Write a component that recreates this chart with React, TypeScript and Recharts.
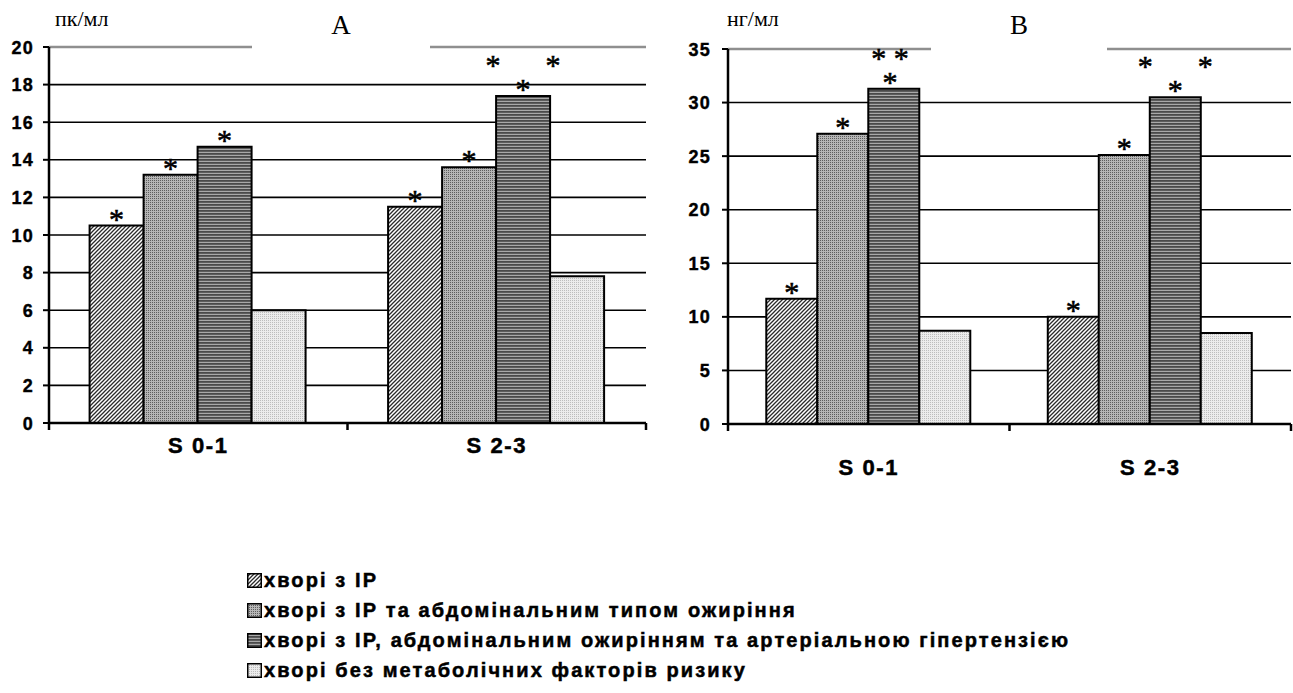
import React from 'react'
import { BarChart, Bar, XAxis, YAxis, CartesianGrid, ReferenceLine, LabelList } from 'recharts'

const categories = ['S 0-1', 'S 2-3']
const seriesNames = [
  'хворі з ІР',
  'хворі з ІР та абдомінальним типом ожиріння',
  'хворі з ІР, абдомінальним ожирінням та артеріальною гіпертензією',
  'хворі без метаболічних факторів ризику',
]

// chart A, пк/мл
const aSeries1 = [10.5, 11.5]
const aSeries2 = [13.2, 13.6]
const aSeries3 = [14.7, 17.4]
const aSeries4 = [6.0, 7.8]
const aMarks1 = ['*', '*']
const aMarks2 = ['*', '*']
const aMarks3 = ['*', '*      *|*']
const aMarks4 = ['', '']
const aTicks = [0, 2, 4, 6, 8, 10, 12, 14, 16, 18, 20]

// chart B, нг/мл
const bSeries1 = [11.7, 10.0]
const bSeries2 = [27.1, 25.1]
const bSeries3 = [31.3, 30.5]
const bSeries4 = [8.7, 8.5]
const bMarks1 = ['*', '*']
const bMarks2 = ['*', '*']
const bMarks3 = ['* * |* ', '*      *|*']
const bMarks4 = ['', '']
const bTicks = [0, 5, 10, 15, 20, 25, 30, 35]

const fills = ['url(#pat1)', 'url(#pat2)', 'url(#pat3)', 'url(#pat4)']
const SANS = '"Liberation Sans", Arial, sans-serif'
const SERIF = '"Liberation Serif", "Times New Roman", serif'
const GRAY = '#8f8f8f'
const H = 500

const buildRows = (s: number[][], m: string[][]) =>
  categories.map((cat, i) => ({
    cat,
    s1: s[0][i], s2: s[1][i], s3: s[2][i], s4: s[3][i],
    m1: m[0][i], m2: m[1][i], m3: m[2][i], m4: m[3][i],
  }))

const dataA = buildRows([aSeries1, aSeries2, aSeries3, aSeries4], [aMarks1, aMarks2, aMarks3, aMarks4])
const dataB = buildRows([bSeries1, bSeries2, bSeries3, bSeries4], [bMarks1, bMarks2, bMarks3, bMarks4])

function renderMark(props: any) {
  const { x, y, width, value } = props
  if (!value) return null
  const lines = String(value).split('|')
  const cx = Number(x) + Number(width) / 2
  return (
    <g>
      {lines.map((ln, i) => {
        const cy = Number(y) - 11 - (lines.length - 1 - i) * 24
        return (
          <text key={i} x={cx} y={cy + 14} textAnchor="middle" fontFamily={SERIF} fontSize={30}
            fill="#000" stroke="#000" strokeWidth={0.6} style={{ whiteSpace: 'pre' }}>
            {ln}
          </text>
        )
      })}
    </g>
  )
}

function YTick(props: any) {
  const { x, y, payload } = props
  return (
    <text x={x} y={y} dy={6.5} textAnchor="end" fontFamily={SANS} fontWeight="bold" fontSize={18}
      letterSpacing={1.2} fill="#000" stroke="#000" strokeWidth={0.4}>
      {payload.value}
    </text>
  )
}

function makeXTick(half: number, labelDy: number) {
  return function XTick(props: any) {
    const { x, y, payload, index } = props
    return (
      <g>
        <line x1={x + half} x2={x + half} y1={y} y2={y + 7} stroke="#000" strokeWidth={2.5} />
        {index === 0 && <line x1={x - half} x2={x - half} y1={y} y2={y + 7} stroke="#000" strokeWidth={2.5} />}
        <text x={x} y={y + labelDy} textAnchor="middle" fontFamily={SANS} fontWeight="bold" fontSize={22}
          letterSpacing={1.6} fill="#000" stroke="#000" strokeWidth={0.5}>
          {payload.value}
        </text>
      </g>
    )
  }
}

function Panel({ data, ticks, max, marks, width, yWidth, top, bottom, rightPad, labelDy, tickGap }: any) {
  const plotW = width - yWidth - rightPad
  const half = plotW / categories.length / 2
  const XTick = makeXTick(half, labelDy)
  const keys = ['s1', 's2', 's3', 's4']
  return (
    <BarChart width={width} height={H} data={data} barGap={0} barCategoryGap="13.6%"
      margin={{ top, right: rightPad, bottom: 0, left: 0 }}>
      <CartesianGrid vertical={false} stroke="#000" strokeWidth={1.6} />
      <XAxis dataKey="cat" height={H - bottom} tickLine={false} tickSize={0} tickMargin={0}
        axisLine={{ stroke: '#000', strokeWidth: 2.5 }} tick={<XTick />} interval={0} />
      <YAxis width={yWidth} domain={[0, max]} ticks={ticks} interval={0} tickSize={6} tickMargin={tickGap}
        axisLine={{ stroke: '#000', strokeWidth: 2.5 }} tickLine={{ stroke: '#000', strokeWidth: 2 }}
        tick={<YTick />} />
      <YAxis yAxisId="r" orientation="right" width={0} domain={[0, max]} tick={false} tickLine={false}
        axisLine={{ stroke: GRAY, strokeWidth: 2 }} />
      <ReferenceLine y={max} stroke={GRAY} strokeWidth={2.5} />
      {keys.map((k, i) => (
        <Bar key={k} dataKey={k} name={seriesNames[i]} fill={fills[i]} stroke="#000" strokeWidth={2}
          isAnimationActive={false}>
          <LabelList dataKey={marks[i]} content={renderMark} />
        </Bar>
      ))}
    </BarChart>
  )
}

function PatternDefs() {
  return (
    <svg width={0} height={0} style={{ position: 'absolute' }}>
      <defs>
        <pattern id="pat1" patternUnits="userSpaceOnUse" width={4} height={4}>
          <rect width={4} height={4} fill="#fff" />
          <path d="M-1,1 l2,-2 M0,4 l4,-4 M3,5 l2,-2" stroke="#2a2a2a" strokeWidth={1.3} />
        </pattern>
        <pattern id="pat2" patternUnits="userSpaceOnUse" width={2} height={2}>
          <rect width={2} height={2} fill="#b6b6b6" />
          <rect width={1} height={1} fill="#5e5e5e" />
        </pattern>
        <pattern id="pat3" patternUnits="userSpaceOnUse" width={4} height={3}>
          <rect width={4} height={3} fill="#a8a8a8" />
          <rect width={4} height={1.8} fill="#4a4a4a" />
        </pattern>
        <pattern id="pat4" patternUnits="userSpaceOnUse" width={2} height={2}>
          <rect width={2} height={2} fill="#ececec" />
          <rect width={1} height={1} fill="#bdbdbd" />
        </pattern>
      </defs>
    </svg>
  )
}

export default function App() {
  return (
    <div style={{ position: 'fixed', left: 0, top: 0, width: 1293, height: 693, overflow: 'hidden', background: '#fff' }}>
      <PatternDefs />
      <div style={{ position: 'absolute', left: 0, top: 0 }}>
        <Panel data={dataA} ticks={aTicks} max={20} marks={['m1', 'm2', 'm3', 'm4']} width={650}
          yWidth={49} top={47} bottom={423} rightPad={4} labelDy={30} tickGap={9} />
      </div>
      <div style={{ position: 'absolute', left: 650, top: 0 }}>
        <Panel data={dataB} ticks={bTicks} max={35} marks={['m1', 'm2', 'm3', 'm4']} width={643}
          yWidth={78} top={49} bottom={424} rightPad={2} labelDy={51} tickGap={11} />
      </div>

      <div style={{ position: 'absolute', left: 55, top: 6, fontFamily: SERIF, fontSize: 22 }}>пк/мл</div>
      <div style={{ position: 'absolute', left: 252, top: 0, width: 178, height: 52, background: '#fff',
        textAlign: 'center', fontFamily: SERIF, fontSize: 27, lineHeight: '30px', paddingTop: 10, boxSizing: 'border-box' }}>
        A
      </div>
      <div style={{ position: 'absolute', left: 727, top: 6, fontFamily: SERIF, fontSize: 22 }}>нг/мл</div>
      <div style={{ position: 'absolute', left: 931, top: 0, width: 176, height: 52, background: '#fff',
        textAlign: 'center', fontFamily: SERIF, fontSize: 27, lineHeight: '30px', paddingTop: 10, boxSizing: 'border-box' }}>
        B
      </div>

      <div style={{ position: 'absolute', left: 247, top: 566, fontFamily: SANS, fontWeight: 'bold', fontSize: 20,
        letterSpacing: 2.1, WebkitTextStroke: '0.5px #000' }}>
        {seriesNames.map((name, i) => (
          <div key={name} style={{ height: 29.8, display: 'flex', alignItems: 'center' }}>
            <svg width={15} height={15} style={{ marginRight: 2, flex: 'none' }}>
              <rect x={0.75} y={0.75} width={13.5} height={13.5} fill={fills[i]} stroke="#000" strokeWidth={1.5} />
            </svg>
            <span>{name}</span>
          </div>
        ))}
      </div>
    </div>
  )
}
